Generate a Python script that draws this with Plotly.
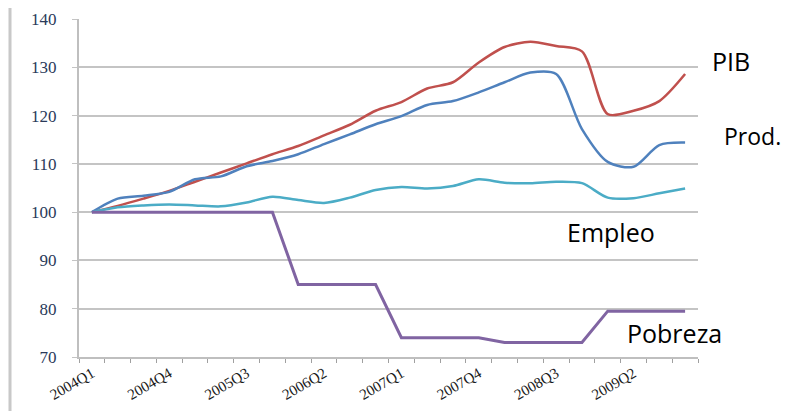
import plotly.graph_objects as go

quarters = [f"{y}Q{q}" for y in range(2004, 2010) for q in range(1, 5)]

pib = [100, 101.3, 102.8, 104.4, 106.3, 108.2, 110.1, 112.0, 113.7, 115.9, 118.1, 121.0,
       122.8, 125.6, 126.9, 131.0, 134.2, 135.3, 134.4, 133.3, 120.3, 121.0, 123.0, 128.6]
prod = [100, 102.8, 103.4, 104.2, 106.8, 107.4, 109.5, 110.6, 112.0, 114.1, 116.1, 118.2,
        119.9, 122.2, 123.0, 124.8, 126.9, 128.9, 128.6, 117.2, 110.4, 109.4, 113.9, 114.4]
empleo = [100, 101.0, 101.4, 101.6, 101.4, 101.2, 102.0, 103.2, 102.5, 101.9, 103.0, 104.6,
          105.2, 104.9, 105.4, 106.8, 106.1, 106.0, 106.3, 106.0, 103.0, 102.9, 103.9, 104.9]
pobreza = [100, 100, 100, 100, 100, 100, 100, 100, 85, 85, 85, 85,
           74, 74, 74, 74, 73, 73, 73, 73, 79.5, 79.5, 79.5, 79.5]

labels = ["PIB", "Prod.", "Empleo", "Pobreza"]
label_px = [(710, 61), (722, 136), (565, 232), (625, 333)]
label_sizes = [25, 23, 25, 25]

# window geometry (page body has an 8px margin)
OFF = 8
WIN_W, WIN_H = 789, 411
L, R, T, B = 79, 698, 19, 357  # plot area in window pixels

fig = go.Figure()
fig.add_trace(go.Scatter(x=quarters, y=pib, mode="lines", name="PIB",
                         line=dict(color="#C0504D", width=2.5, shape="spline", smoothing=0.8)))
fig.add_trace(go.Scatter(x=quarters, y=prod, mode="lines", name="Prod.",
                         line=dict(color="#4F81BD", width=2.5, shape="spline", smoothing=0.8)))
fig.add_trace(go.Scatter(x=quarters, y=empleo, mode="lines", name="Empleo",
                         line=dict(color="#4BACC6", width=2.5, shape="spline", smoothing=0.8)))
fig.add_trace(go.Scatter(x=quarters, y=pobreza, mode="lines", name="Pobreza",
                         line=dict(color="#8064A2", width=3)))

for text, (px, py), sz in zip(labels, label_px, label_sizes):
    fig.add_annotation(text=text, xref="paper", yref="paper",
                       x=(px - L) / (R - L), y=(B - py) / (B - T),
                       xanchor="left", yanchor="middle", showarrow=False,
                       font=dict(family="Open Sans", size=sz, color="#000000"))

# left border line
fig.add_shape(type="line", xref="paper", yref="paper",
              x0=(10 - L) / (R - L), x1=(10 - L) / (R - L),
              y0=(B - 8) / (B - T), y1=(B - 411) / (B - T),
              line=dict(color="#C8C8C8", width=3))

fig.update_layout(
    width=WIN_W - OFF, height=WIN_H - OFF,
    margin=dict(l=L - OFF, r=WIN_W - R, t=T - OFF, b=WIN_H - B, autoexpand=False),
    paper_bgcolor="white", plot_bgcolor="white",
    showlegend=False,
)
fig.update_xaxes(
    type="category", tickmode="array", tickvals=quarters,
    ticktext=[q if i % 3 == 0 else "" for i, q in enumerate(quarters)],
    tickson="boundaries", ticks="outside", ticklen=4, tickcolor="#A0A0A0",
    tickangle=-30, tickfont=dict(family="Liberation Serif", size=15, color="#1A1A1A"),
    showline=True, linecolor="#BFBFBF", linewidth=2, showgrid=False,
    range=[-0.5, 23.5], automargin=False,
)
fig.update_yaxes(
    range=[70, 140], dtick=10,
    tickfont=dict(family="Liberation Serif", size=17, color="#2A3A5A"),
    showgrid=True, gridcolor="#C4C4C4", gridwidth=2,
    showline=True, linecolor="#BFBFBF", linewidth=2,
    ticks="outside", ticklen=5, tickcolor="#C4C4C4", zeroline=False,
    ticklabelstandoff=12, automargin=False,
)

fig.write_html("out.html")
